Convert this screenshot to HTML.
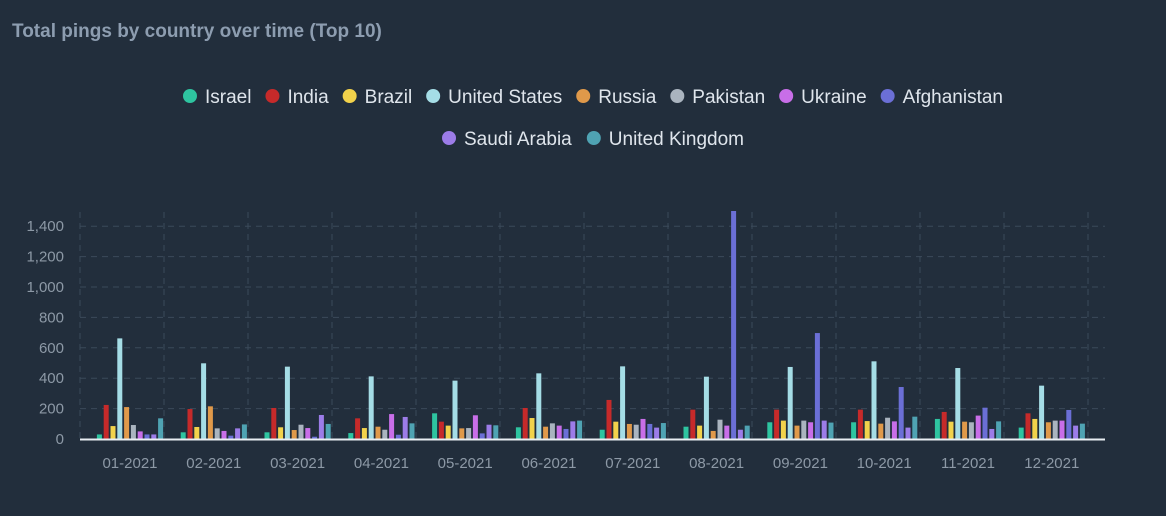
<!DOCTYPE html>
<html><head><meta charset="utf-8"><style>
body{margin:0;background:#222e3c;font-family:"Liberation Sans",sans-serif;}
svg{display:block}
</style></head><body>
<svg id="c" width="1166" height="516">
<rect width="1166" height="516" fill="#222e3c"/>
<text x="12" y="37" font-size="19" font-weight="bold" fill="#8d9db0">Total pings by country over time (Top 10)</text>
<g id="legend"></g><g id="grid"></g><g id="bars"></g><g id="axes"></g>
</svg>
<script>
const months=["01-2021","02-2021","03-2021","04-2021","05-2021","06-2021","07-2021","08-2021","09-2021","10-2021","11-2021","12-2021"];
const countries=["Israel","India","Brazil","United States","Russia","Pakistan","Ukraine","Afghanistan","Saudi Arabia","United Kingdom"];
const colors=["#2ec4a0","#c62a2a","#f2d24b","#a5dde6","#e0994a","#aab4bf","#c86ee8","#6b6fd6","#9c7ce8","#4fa3b3"];
const israel=[30,44,44,39,169,77,61,81,110,110,132,75];
const india=[224,197,204,136,114,204,257,193,193,193,178,169];
const brazil=[85,79,77,72,88,138,114,88,121,118,114,132];
const us=[662,498,476,412,384,432,478,410,474,511,467,351];
const russia=[210,215,59,81,70,81,99,53,88,101,114,110];
const pakistan=[92,70,94,61,72,103,94,127,121,140,110,121];
const ukraine=[50,53,72,164,156,88,132,88,110,116,154,121];
const afghanistan=[30,22,15,28,37,66,99,1500,697,342,206,191];
const saudi=[30,70,158,145,94,116,75,61,121,75,66,88];
const uk=[136,96,99,103,90,121,105,88,108,147,116,101];
const series=[israel,india,brazil,us,russia,pakistan,ukraine,afghanistan,saudi,uk];
const yTicks=[0,200,400,600,800,1000,1200,1400];
const yTickLabels=["0","200","400","600","800","1,000","1,200","1,400"];
const NS="http://www.w3.org/2000/svg";
const y0=439,pxPer=30.4/200,firstC=130,step=83.8;
const y=v=>y0-v*pxPer;
const xc=i=>firstC+i*step;
function mk(t,a,p){const e=document.createElementNS(NS,t);for(const k in a)e.setAttribute(k,a[k]);p.appendChild(e);return e;}
const grid=document.getElementById('grid'),bars=document.getElementById('bars'),axes=document.getElementById('axes'),lg=document.getElementById('legend');
yTicks.forEach((v,i)=>{
  if(v>0){const l=mk('line',{x1:80,x2:1105,y1:y(v),y2:y(v),stroke:'#3b4a5a','stroke-dasharray':'6 5'},grid);
  
  }
  const t=mk('text',{x:64,y:y(v)+5,'text-anchor':'end','font-size':15,fill:'#8d99a6'},axes);
  t.textContent=yTickLabels[i];
  
  
});
for(let i=0;i<=12;i++){
  const l=mk('line',{x1:80+i*84,x2:80+i*84,y1:212,y2:y0,stroke:'#3b4a5a','stroke-dasharray':'6 5'},grid);
  
  
}
const pitch=6.8,bw=5;
months.forEach((m,i)=>{
  series.forEach((s,j)=>{
    const x=xc(i)-(pitch*10)/2+j*pitch+0.9;
    const r=mk('rect',{x:x,y:y(s[i]),width:bw,height:s[i]*pxPer,fill:colors[j]},bars);
    
    
  });
  const t=mk('text',{x:xc(i),y:468,'text-anchor':'middle','font-size':15,fill:'#8d99a6'},axes);
  t.textContent=m;
  
  
});
const ax=mk('line',{x1:80,x2:1105,y1:y0+0.5,y2:y0+0.5,stroke:'#e8edf2','stroke-width':2},axes);


// legend
const rows=[[0,1,2,3,4,5,6,7],[8,9]];
const rowY=[97,139];
const ctx=document.createElement('canvas').getContext('2d');ctx.font='19px "Liberation Sans"';
rows.forEach((row,ri)=>{
  const widths=row.map(k=>22+ctx.measureText(countries[k]).width);
  const total=widths.reduce((a,b)=>a+b,0)+(row.length-1)*14;
  let x=593-total/2;
  row.forEach((k,n)=>{
    const g=mk('g',{},lg);
    
    
    mk('circle',{cx:x+7,cy:rowY[ri]-1,r:7,fill:colors[k]},g);
    const t=mk('text',{x:x+22,y:rowY[ri]+6,'font-size':19,fill:'#dfe5ec'},g);
    t.textContent=countries[k];
    x+=widths[n]+14;
  });
});
</script>
</body></html>
